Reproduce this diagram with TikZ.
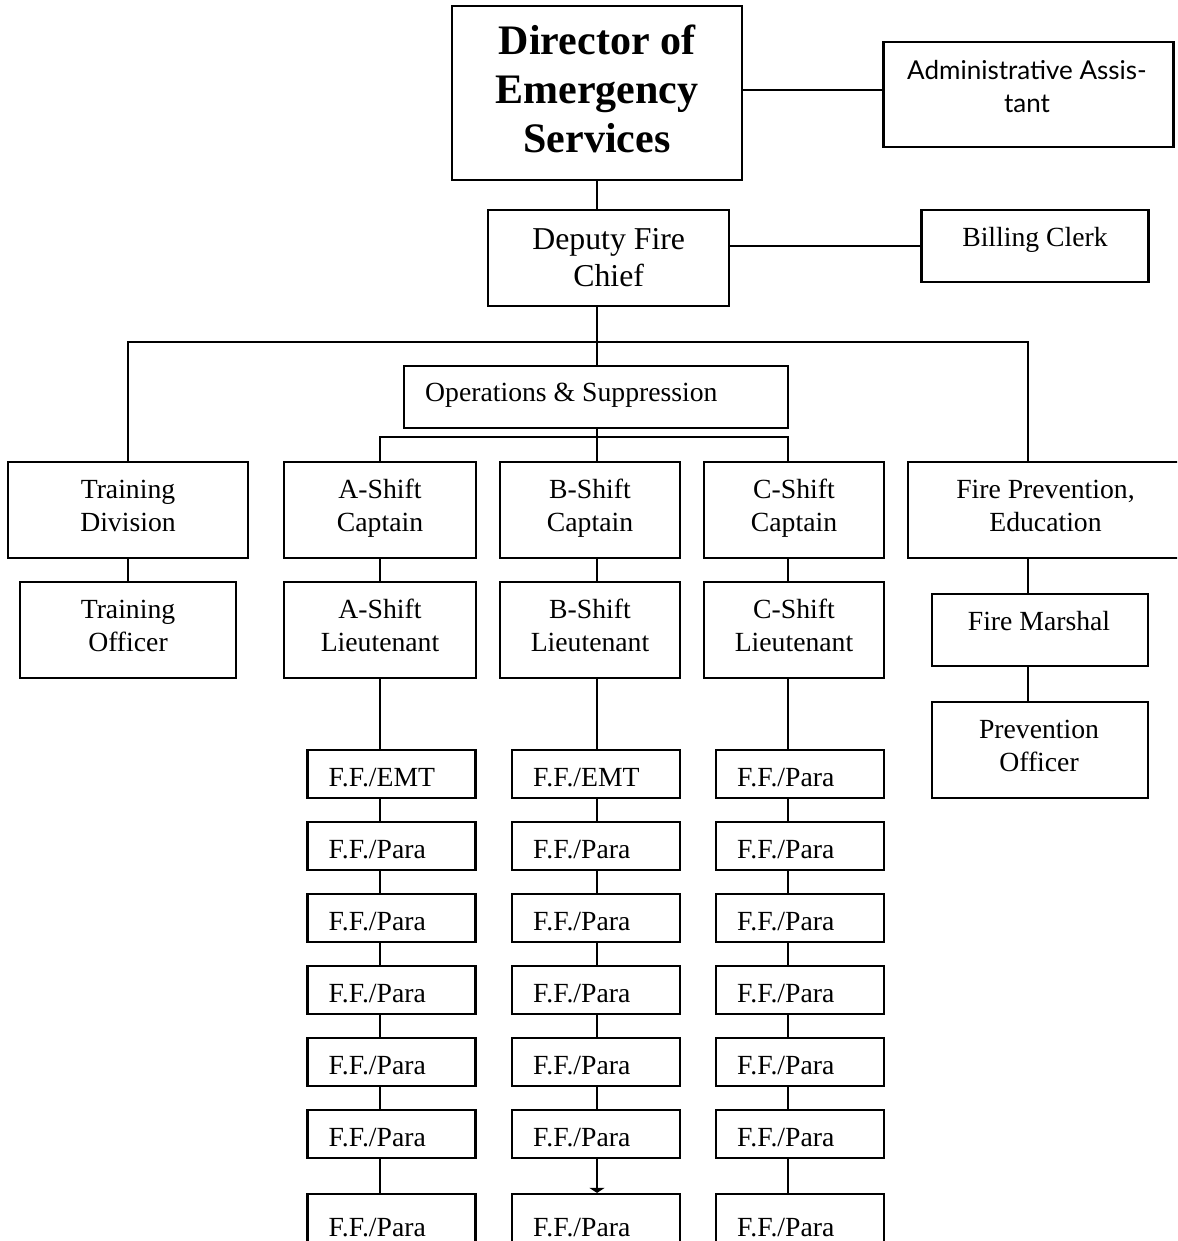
\documentclass[tikz,border=0pt]{standalone}
\usepackage{fontspec}
\setmainfont{Liberation Serif}
\newfontfamily\admfamily{Lato}
\usetikzlibrary{arrows.meta}
\newcommand\mlines[1]{\begin{tabular}[t]{@{}c@{}}#1\end{tabular}}
\begin{document}
\begin{tikzpicture}[x=1pt,y=-1pt,
  box/.style 2 args={draw,line width=2.2pt,minimum width=#1,minimum height=#2,inner sep=0pt},
  conn/.style={line width=2.2pt},
  txt/.style={inner sep=0pt,anchor=base,font=\fontsize{27.7}{33}\selectfont},
  deptxt/.style={txt,font=\fontsize{31.8}{36}\selectfont},
  dirtxt/.style={txt,font=\bfseries\fontsize{42}{49}\selectfont},
  admtxt/.style={txt,font=\admfamily\fontsize{26}{33}\selectfont},
  fftxt/.style={txt,anchor=base west}]
\useasboundingbox (0,0) rectangle (1177,1241);
\clip (0,0) rectangle (1177,1241);

% top
\node[box={290}{174}] (dir) at (597,93) {};
\node[dirtxt] (dirT) at (597,55) {\mlines{Director of\\Emergency\\Services}};
\node[box={290}{104.4}] (adm) at (1028.5,94.5) {};
\node[admtxt] (admT) at (1027,80) {\mlines{Administrative Assis-\\tant}};
\node[box={241}{96}] (dep) at (608.5,258) {};
\node[deptxt] (depT) at (608.7,250) {\mlines{Deputy Fire\\Chief}};
\node[box={227}{72}] (bil) at (1035,246) {};
\node[txt] (bilT) at (1035,246.7) {Billing Clerk};
\node[box={384}{62}] (ops) at (596,397) {};
\node[txt,anchor=base west] (opsT) at (425,401.7) {Operations \& Suppression};

% captains row
\node[box={240}{96}] (trd) at (128,510) {};
\node[txt] (trdT) at (128,498.3) {\mlines{Training\\Division}};
\node[box={192}{96}] (capA) at (380,510) {};
\node[txt] (capAT) at (380,498.3) {\mlines{A-Shift\\Captain}};
\node[box={180}{96}] (capB) at (590,510) {};
\node[txt] (capBT) at (590,498.3) {\mlines{B-Shift\\Captain}};
\node[box={180}{96}] (capC) at (794,510) {};
\node[txt] (capCT) at (794,498.3) {\mlines{C-Shift\\Captain}};
\node[box={275}{96}] (fpe) at (1045.5,510) {};
\node[txt] (fpeT) at (1045.5,498.3) {\mlines{Fire Prevention,\\Education}};

% lieutenants row
\node[box={216}{96}] (tro) at (128,630) {};
\node[txt] (troT) at (128,618.3) {\mlines{Training\\Officer}};
\node[box={192}{96}] (ltA) at (380,630) {};
\node[txt] (ltAT) at (380,618.3) {\mlines{A-Shift\\Lieutenant}};
\node[box={180}{96}] (ltB) at (590,630) {};
\node[txt] (ltBT) at (590,618.3) {\mlines{B-Shift\\Lieutenant}};
\node[box={180}{96}] (ltC) at (794,630) {};
\node[txt] (ltCT) at (794,618.3) {\mlines{C-Shift\\Lieutenant}};
\node[box={216}{72}] (fm) at (1040,630) {};
\node[txt] (fmT) at (1039,630) {Fire Marshal};
\node[box={216}{96}] (po) at (1040,750) {};
\node[txt] (poT) at (1039,738.3) {\mlines{Prevention\\Officer}};

% firefighters
\foreach \c/\cx/\first in {A/391.5/EMT,B/596/EMT,C/800/Para}{
  \foreach \r/\t in {1/750,2/822,3/894,4/966,5/1038,6/1110}{
    \node[box={168}{47.7}] (ff\c\r) at (\cx,\t+23.85) {};
    \node[fftxt] (tff\c\r) at (\cx-63,\t+36.3) {F.F./\ifnum\r=1 \first\else Para\fi};
  }
  \node[box={168}{67}] (ff\c7) at (\cx,1227.5) {};
  \node[fftxt] (tff\c7) at (\cx-63,1236.5) {F.F./Para};
}

% helper coordinates
\coordinate (colA) at (380,0);
\coordinate (colB) at (597,0);
\coordinate (colC) at (788,0);
\coordinate (colF) at (1028,0);
\coordinate (topbar) at (597,342);
\coordinate (subbar) at (597,437);
\coordinate (admY) at (0,90);

% connectors
\draw[conn] (dir.east |- admY) -- (adm.west |- admY);
\draw[conn] (dep.east |- bil.west) -- (bil.west);
\draw[conn] (dir.south) -- (dir.south |- dep.north);
\draw[conn] (dep.south -| colB) -- (ops.north -| colB);
\draw[conn] (trd.north) |- (topbar) -| (fpe.north -| colF);
\draw[conn] (ops.south -| colB) -- (subbar);
\draw[conn] (capA.north -| colA) |- (subbar) -| (capC.north -| colC);
\draw[conn] (subbar) -- (capB.north -| colB);
\draw[conn] (trd.south) -- (tro.north);
\foreach \c in {A,B,C}{
  \draw[conn] (cap\c.south -| col\c) -- (lt\c.north -| col\c);
  \draw[conn] (lt\c.south -| col\c) -- (ff\c1.north -| col\c);
  \foreach \r/\n in {1/2,2/3,3/4,4/5,5/6}{
    \draw[conn] (ff\c\r.south -| col\c) -- (ff\c\n.north -| col\c);
  }
}
\draw[conn] (ffA6.south -| colA) -- (ffA7.north -| colA);
\draw[conn,-{Triangle[width=15pt,length=5pt]}] (ffB6.south -| colB) -- (ffB7.north -| colB);
\draw[conn] (ffC6.south -| colC) -- (ffC7.north -| colC);
\draw[conn] (fpe.south -| colF) -- (fm.north -| colF);
\draw[conn] (fm.south -| colF) -- (po.north -| colF);
\end{tikzpicture}
\end{document}
